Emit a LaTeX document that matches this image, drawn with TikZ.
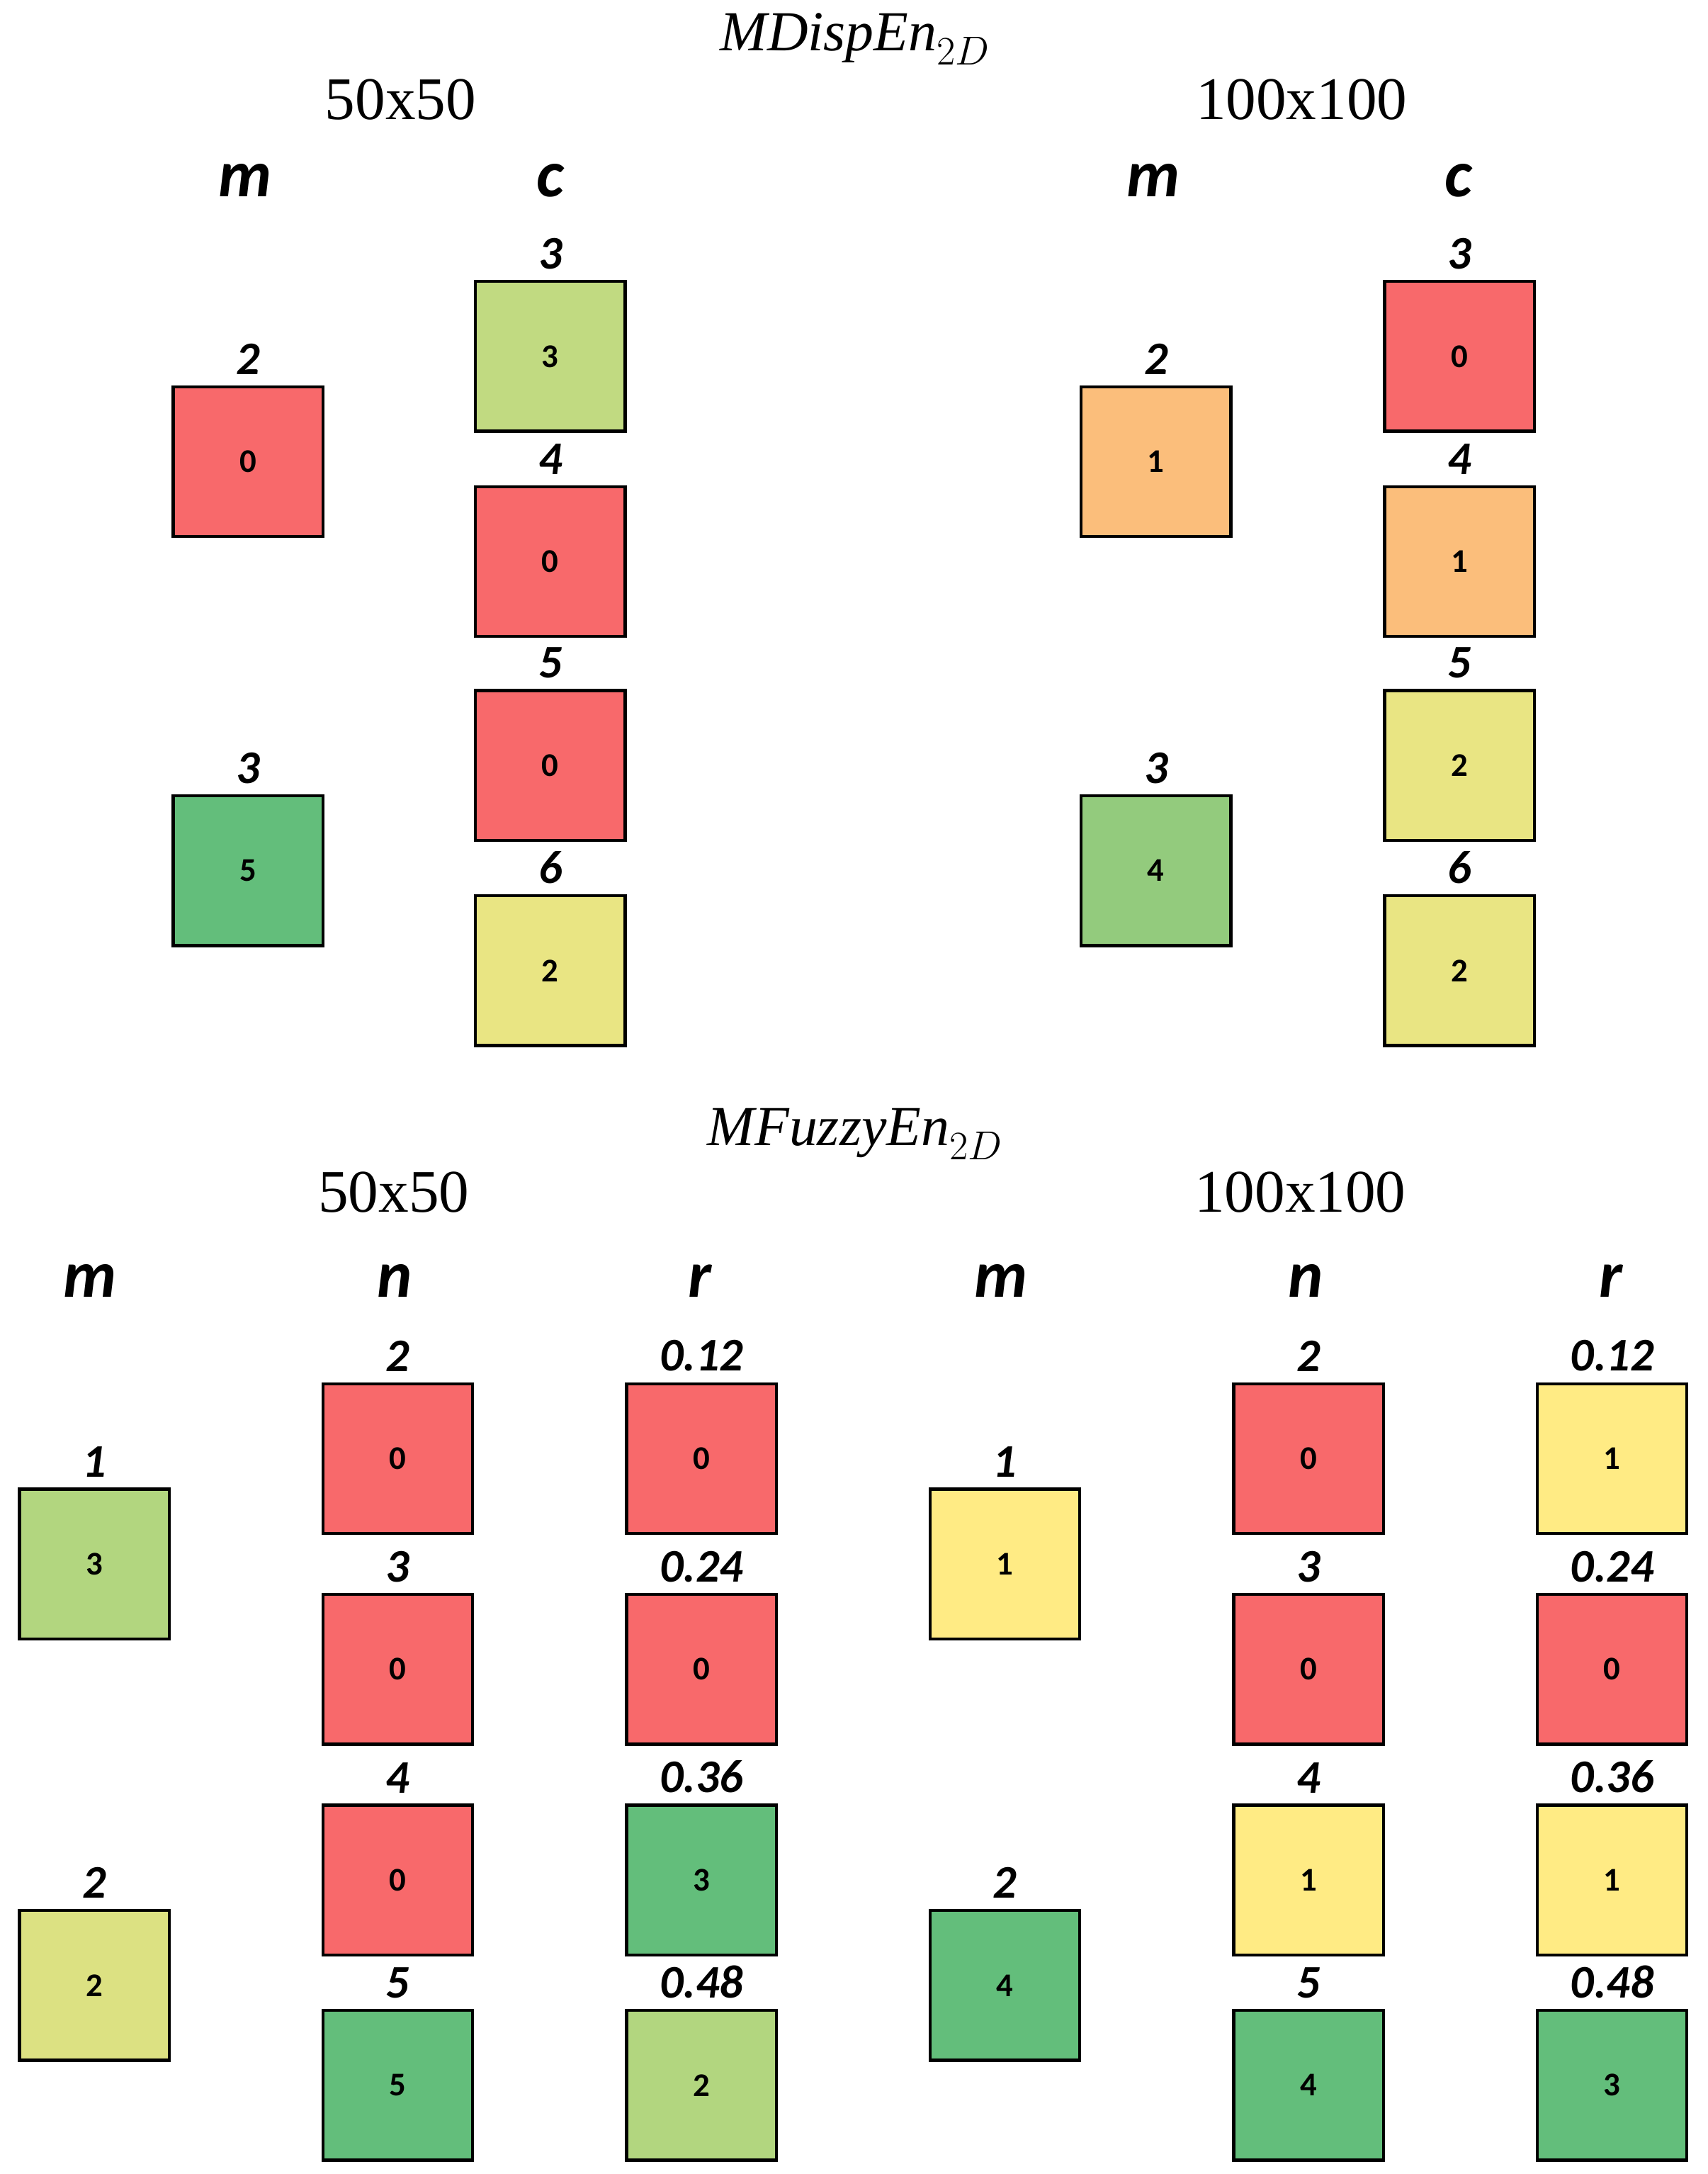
\documentclass[tikz,border=0pt]{standalone}
\usepackage{fontspec}
\setmainfont{Liberation Serif}
\newfontfamily\lblfont{Carlito}
\usetikzlibrary{positioning}
\definecolor{cRed}{HTML}{F8696B}
\definecolor{cOrange}{HTML}{FBBE7B}
\definecolor{cYellow}{HTML}{FFEB84}
\definecolor{cYelGr}{HTML}{E9E583}
\definecolor{cOlive}{HTML}{DCE182}
\definecolor{cLime}{HTML}{C1DA81}
\definecolor{cLight}{HTML}{B2D67F}
\definecolor{cMid}{HTML}{93CB7D}
\definecolor{cGreen}{HTML}{63BE7B}
\tikzset{
  cell/.style={draw=black,line width=1.6pt,minimum width=2.7cm,minimum height=2.7cm,
    inner sep=0pt,font=\lblfont\bfseries\fontsize{17}{20}\selectfont},
  lbl/.style={font=\lblfont\bfseries\itshape\fontsize{24}{28}\selectfont,above=2pt},
  head/.style={font=\lblfont\bfseries\itshape\fontsize{34}{40}\selectfont},
  size/.style={font=\fontsize{31}{36}\selectfont},
  ttl/.style={font=\fontsize{29}{34}\selectfont}
}
\begin{document}
\begin{tikzpicture}[x=0.025cm,y=-0.025cm]
\useasboundingbox (0,0) rectangle (1232,1568);
% MDispEn
\node[ttl] (t1) at (617,28) {$\mathit{MDispEn}_{2D}$};
\node[size] (s1) at (289,72) {50x50};
\node[size] (s2) at (939,72) {100x100};
\node[head] (h1) at (177,130) {m};
\node[head] (h2) at (397,130) {c};
\node[head] (h3) at (832,130) {m};
\node[head] (h4) at (1052,130) {c};
% m column
\foreach \x/\y/\l/\v/\c/\n in {179/333/2/0/cRed/a1,179/628/3/5/cGreen/a2,
    834/333/2/1/cOrange/b1,834/628/3/4/cMid/b2}{
  \node[cell,fill=\c] (\n) at (\x,\y) {\v};
  \node[lbl] at (\n.north) {\l};
}
% c column
\foreach \x/\y/\l/\v/\c/\n in {397/257/3/3/cLime/c1,397/405/4/0/cRed/c2,397/552/5/0/cRed/c3,397/700/6/2/cYelGr/c4,
    1053/257/3/0/cRed/d1,1053/405/4/1/cOrange/d2,1053/552/5/2/cYelGr/d3,1053/700/6/2/cYelGr/d4}{
  \node[cell,fill=\c] (\n) at (\x,\y) {\v};
  \node[lbl] at (\n.north) {\l};
}
% MFuzzyEn
\node[ttl] (t2) at (617,818) {$\mathit{MFuzzyEn}_{2D}$};
\node[size] (s3) at (284,860) {50x50};
\node[size] (s4) at (938,860) {100x100};
\foreach \x/\t in {65/m,285/n,505/r,722/m,942/n,1162/r}
  \node[head] (h\x) at (\x,924) {\t};
\foreach \x/\y/\l/\v/\c/\n in {68/1128/1/3/cLight/e1,68/1432/2/2/cOlive/e2,
    725/1128/1/1/cYellow/f1,725/1432/2/4/cGreen/f2}{
  \node[cell,fill=\c] (\n) at (\x,\y) {\v};
  \node[lbl] at (\n.north) {\l};
}
\foreach \x/\y/\l/\v/\c/\n in {287/1052/2/0/cRed/g1,287/1204/3/0/cRed/g2,287/1356/4/0/cRed/g3,287/1504/5/5/cGreen/g4,
    506/1052/0.12/0/cRed/k1,506/1204/0.24/0/cRed/k2,506/1356/0.36/3/cGreen/k3,506/1504/0.48/2/cLight/k4,
    944/1052/2/0/cRed/p1,944/1204/3/0/cRed/p2,944/1356/4/1/cYellow/p3,944/1504/5/4/cGreen/p4,
    1163/1052/0.12/1/cYellow/q1,1163/1204/0.24/0/cRed/q2,1163/1356/0.36/1/cYellow/q3,1163/1504/0.48/3/cGreen/q4}{
  \node[cell,fill=\c] (\n) at (\x,\y) {\v};
  \node[lbl] at (\n.north) {\l};
}
\end{tikzpicture}
\end{document}
